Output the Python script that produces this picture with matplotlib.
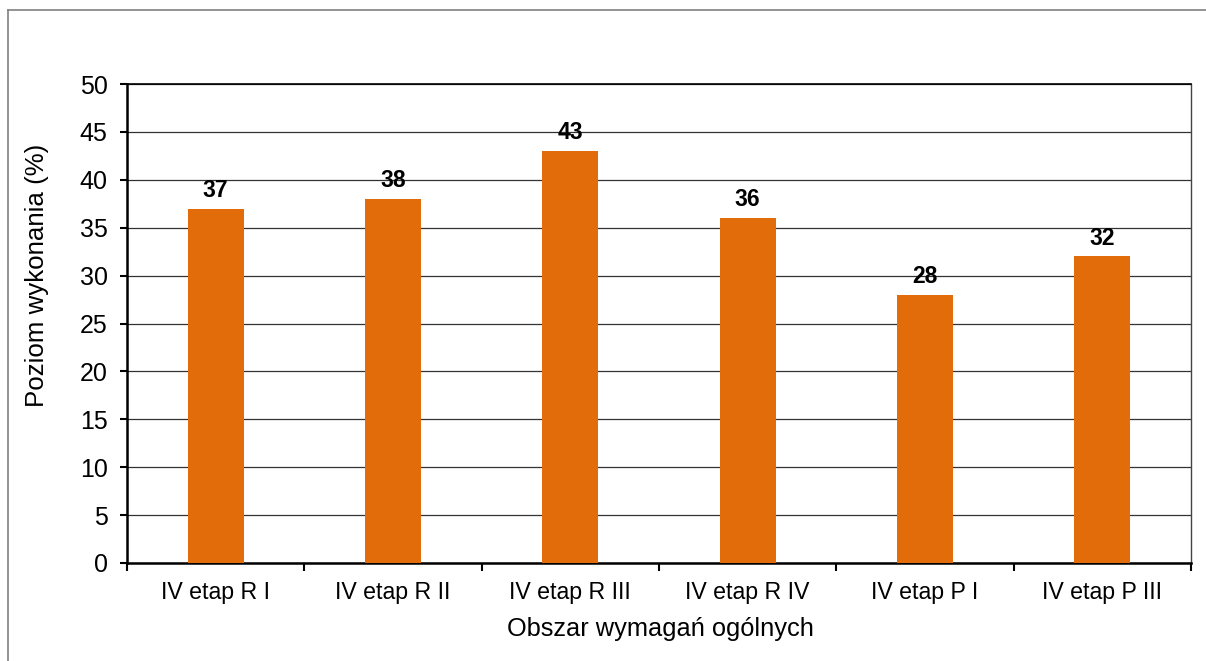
import matplotlib
matplotlib.use("Agg")
import matplotlib.pyplot as plt
from matplotlib.lines import Line2D

categories = ["IV etap R I", "IV etap R II", "IV etap R III", "IV etap R IV", "IV etap P I", "IV etap P III"]
values = [37, 38, 43, 36, 28, 32]
yticks = [0, 5, 10, 15, 20, 25, 30, 35, 40, 45, 50]

plt.rcParams['font.family'] = ['Liberation Sans', 'DejaVu Sans']

fig = plt.figure(figsize=(12.06, 6.61), dpi=100)
W, H = 1206, 661
ax = fig.add_axes([127 / W, 1 - 563 / H, (1191 - 127) / W, (563 - 84) / H])

x = list(range(len(categories)))
ax.bar(x, values, width=0.316, color='#E36C0A', zorder=3)
for xi, v in zip(x, values):
    ax.text(xi, v + 0.7, f"{v}", ha='center', va='bottom', fontsize=16.5, fontweight='bold', zorder=4)

ax.set_xlim(-0.5, len(categories) - 0.5)
ax.set_ylim(0, 50)
ax.set_yticks(yticks)
ax.set_yticklabels([str(t) for t in yticks], fontsize=18)
ax.yaxis.grid(True, color='#333333', linewidth=0.9, zorder=0)
ax.set_xticks(x)
ax.set_xticklabels(categories, fontsize=16.7)
ax.tick_params(axis='x', length=0, pad=13)
ax.set_xticks([i - 0.5 for i in range(len(categories) + 1)], minor=True)
ax.tick_params(axis='x', which='minor', length=6, width=1.5, direction='out')
ax.tick_params(axis='y', length=5, width=1.5, direction='out', pad=9)

ax.spines['left'].set_linewidth(1.8)
ax.spines['bottom'].set_linewidth(1.8)
ax.spines['top'].set_linewidth(1.2)
ax.spines['right'].set_linewidth(1.0)
ax.spines['right'].set_color('#444444')

fig.text(37 / W, 1 - 275 / H, "Poziom wykonania (%)", fontsize=18.6, rotation=90,
         ha='center', va='center')
fig.text(660 / W, 1 - 629 / H, "Obszar wymagań ogólnych", fontsize=18.3,
         ha='center', va='center')

# figure frame (left and top)
fig.add_artist(Line2D([8 / W, 8 / W], [0, 1 - 10 / H], transform=fig.transFigure, color='#808080', linewidth=1.2))
fig.add_artist(Line2D([8 / W, 1], [1 - 10 / H, 1 - 10 / H], transform=fig.transFigure, color='#808080', linewidth=1.2))

fig.savefig("out.png", dpi=100)
